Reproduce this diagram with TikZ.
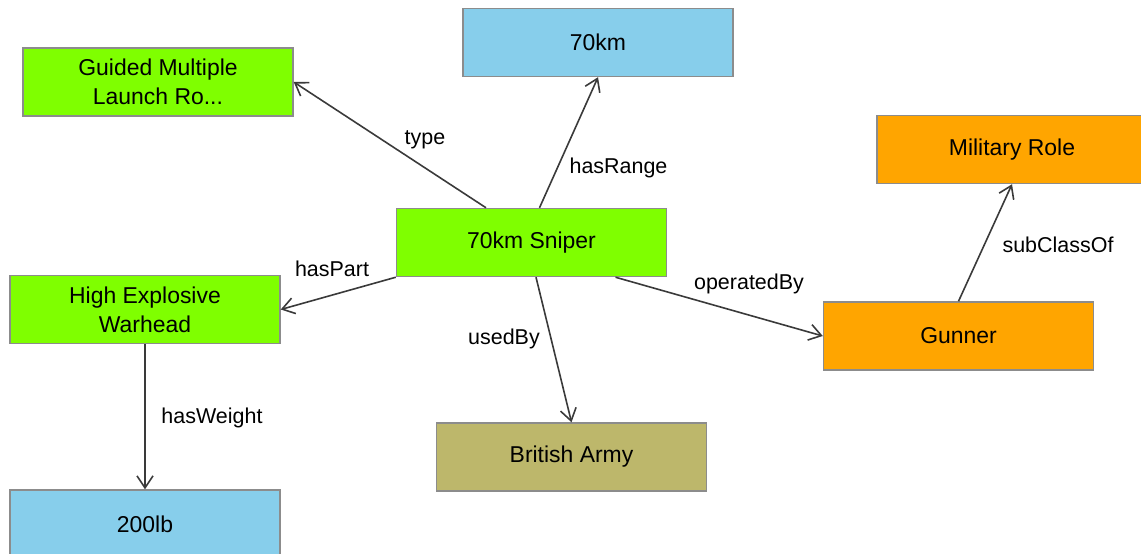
\documentclass[tikz,border=0pt]{standalone}
\usepackage{fontspec}
\setmainfont{Liberation Sans}
\usetikzlibrary{positioning,calc,arrows.meta}

\definecolor{boxgreen}{HTML}{7FFF00}
\definecolor{boxblue}{HTML}{87CEEB}
\definecolor{boxorange}{HTML}{FFA500}
\definecolor{boxkhaki}{HTML}{BDB76B}
\definecolor{boxline}{HTML}{8C8C8C}
\definecolor{arcline}{HTML}{3A3A3A}

\begin{document}
\begin{tikzpicture}[x=0.75pt,y=-0.75pt]
  \useasboundingbox (0,0) rectangle (1141,553);
  \begin{scope}[
    every node/.style={
      draw=boxline,
      line width=1.1pt,
      align=center,
      anchor=center,
      inner sep=0pt,
      minimum width=202.5pt,
      minimum height=51pt,
      font=\fontsize{17.2}{21.8}\selectfont,
    },
    ]
    \node[fill=boxgreen]  (sniper)  at (531.5,242.5) {70km Sniper};
    \node[fill=boxgreen]  (guided)  at (158,82)      {Guided Multiple\\Launch Ro...};
    \node[fill=boxblue]   (range)   at (598,42.5)    {70km};
    \node[fill=boxgreen]  (warhead) at (145,309.5)   {High Explosive\\Warhead};
    \node[fill=boxblue]   (weight)  at (145,524)     {200lb};
    \node[fill=boxkhaki]  (army)    at (571.5,457)   {British Army};
    \node[fill=boxorange] (gunner)  at (958.5,336)   {Gunner};
    \node[fill=boxorange] (role)    at (1012,149.5)  {Military Role};
  \end{scope}
  \begin{scope}[
    every edge/.style={draw=arcline,line width=1.2pt},
    >={Straight Barb[length=9pt,width=12pt]},
    ]
    \path[->]
    ($(sniper.north)+(-45.5,0)$) edge (guided.east)
    ($(sniper.north)+(8,0)$) edge (range.south)
    (sniper.south west) edge (warhead.east)
    ($(sniper.south)+(4.5,0)$) edge (army.north)
    ($(sniper.south)+(84,0)$) edge (gunner.west)
    (gunner.north) edge (role.south)
    (warhead.south) edge (weight.north);
  \end{scope}
  \begin{scope}[every node/.style={font=\fontsize{16.1}{19}\selectfont,anchor=base,inner sep=0pt}]
    \node (type-label)       at (425,144)   {type};
    \node (range-label)      at (618.5,173) {hasRange};
    \node (part-label)       at (332,276)   {hasPart};
    \node (usedby-label)     at (504,344)   {usedBy};
    \node (operatedby-label) at (749,289)   {operatedBy};
    \node (weight-label)     at (212,423)   {hasWeight};
    \node (subclass-label)   at (1058,252)  {subClassOf};
  \end{scope}
\end{tikzpicture}
\end{document}
